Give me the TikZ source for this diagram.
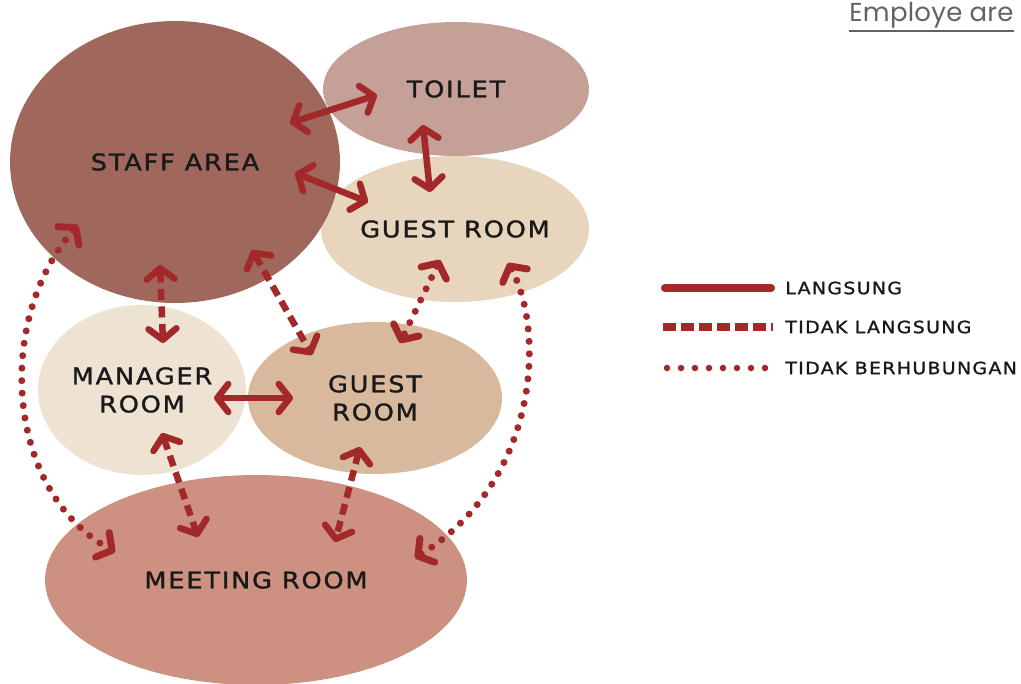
\documentclass[tikz,border=0pt]{standalone}
\usepackage{fontspec}
\usetikzlibrary{arrows.meta, shapes.geometric}
\newfontfamily\roomfont{DejaVu Sans}[FakeStretch=1.12, LetterSpace=8, FakeBold=1.4]
\newfontfamily\webfont{Poppins}[LetterSpace=1]
\definecolor{staffcol}{HTML}{A0675D}
\definecolor{toiletcol}{HTML}{C5A097}
\definecolor{guestcol}{HTML}{E8D5BE}
\definecolor{managercol}{HTML}{EEE3D3}
\definecolor{guestmidcol}{HTML}{D8B99E}
\definecolor{meetingcol}{HTML}{CC9181}
\definecolor{linkred}{HTML}{A3282A}
\definecolor{webgray}{HTML}{5F6368}

\begin{document}
\begin{tikzpicture}[
    x=0.02cm, y=-0.02cm,
    room/.style={ellipse, inner sep=0pt, align=center, text=black!90, font=\roomfont\fontsize{13}{16}\selectfont},
    link/.style={draw=linkred, line width=0.13cm, line cap=round, >={Straight Barb[length=0.22cm, width=0.56cm, round]}, <->},
    direct/.style={link},
    indirect/.style={link, line cap=butt, dash pattern=on 0.22cm off 0.13cm},
    unrelated/.style={link, line width=0.14cm, dash pattern=on 0pt off 0.25cm},
    legendtext/.style={anchor=west, inner sep=0pt, text=black!90, font=\roomfont\fontsize{9.6}{12}\selectfont},
]
\useasboundingbox (0,0) rectangle (1021,683);

% Page header
\node[anchor=base west, inner sep=0pt, text=webgray, font=\webfont\fontsize{14.8}{18}\selectfont] (header) at (849,21) {Employe are};
\draw[webgray, line width=1.3pt] ([yshift=-1.5pt]header.south west) -- ([yshift=-1.5pt]header.south east);

% Rooms
\node[room, fill=toiletcol, minimum width=5.32cm, minimum height=2.68cm] (toilet) at (456,89) {TOILET};
\node[room, fill=guestcol, minimum width=5.32cm, minimum height=2.92cm] (guesttop) at (455,229) {GUEST ROOM};
\node[room, fill=staffcol, minimum width=6.6cm, minimum height=5.64cm] (staff) at (175,162) {STAFF AREA};
\node[room, fill=managercol, minimum width=4.16cm, minimum height=3.4cm] (manager) at (142,390) {MANAGER\\ROOM};
\node[room, fill=guestmidcol, minimum width=5.08cm, minimum height=3.04cm] (guestmid) at (375,398) {GUEST\\ROOM};
\node[room, fill=meetingcol, minimum width=8.44cm, minimum height=4.2cm] (meeting) at (256,580) {MEETING ROOM};

% Direct links
\draw[direct] ([shift={(115,-39)}]staff.center) -- ([shift={(-79,6)}]toilet.center);
\draw[direct] ([shift={(120,11)}]staff.center) -- ([shift={(-87,-27)}]guesttop.center);
\draw[direct] ([shift={(-33,36)}]toilet.center) -- ([shift={(-25,-37)}]guesttop.center);
\draw[direct] ([shift={(72,8)}]manager.center) -- ([shift={(-82,0)}]guestmid.center);

% Indirect links
\draw[indirect] ([shift={(-15,103)}]staff.center) -- ([shift={(21,-47)}]manager.center);
\draw[indirect] ([shift={(77,88)}]staff.center) -- ([shift={(-63,-43)}]guestmid.center);
\draw[indirect] ([shift={(20,43)}]manager.center) -- ([shift={(-58,-43)}]meeting.center);
\draw[indirect] ([shift={(-15,49)}]guestmid.center) -- ([shift={(79,-38)}]meeting.center);

% Unrelated
\draw[unrelated] ([shift={(-15,31)}]guesttop.center) -- ([shift={(25,-55)}]guestmid.center);
\draw[unrelated] ([shift={(-97,63)}]staff.center) .. controls (-5,320) and (5,490) .. ([shift={(-141,-28)}]meeting.center);
\draw[unrelated] ([shift={(53,34)}]guesttop.center) .. controls (545,330) and (540,480) .. ([shift={(159,-22)}]meeting.center);

% Legend
\node[legendtext] (lgdirect) at (785,288) {LANGSUNG};
\node[legendtext] (lgindirect) at (785,327) {TIDAK LANGSUNG};
\node[legendtext] (lgunrelated) at (785,368) {TIDAK BERHUBUNGAN};
\draw[draw=linkred, line width=0.16cm, line cap=round] ([shift={(-120,0)}]lgdirect.west) -- ([shift={(-14,0)}]lgdirect.west);
\draw[draw=linkred, line width=0.16cm, dash pattern=on 0.26cm off 0.1cm] ([shift={(-122,0)}]lgindirect.west) -- ([shift={(-12,0)}]lgindirect.west);
\draw[draw=linkred, line width=0.13cm, line cap=round, dash pattern=on 0pt off 0.28cm] ([shift={(-118,0)}]lgunrelated.west) -- ([shift={(-12,0)}]lgunrelated.west);

\end{tikzpicture}
\end{document}
